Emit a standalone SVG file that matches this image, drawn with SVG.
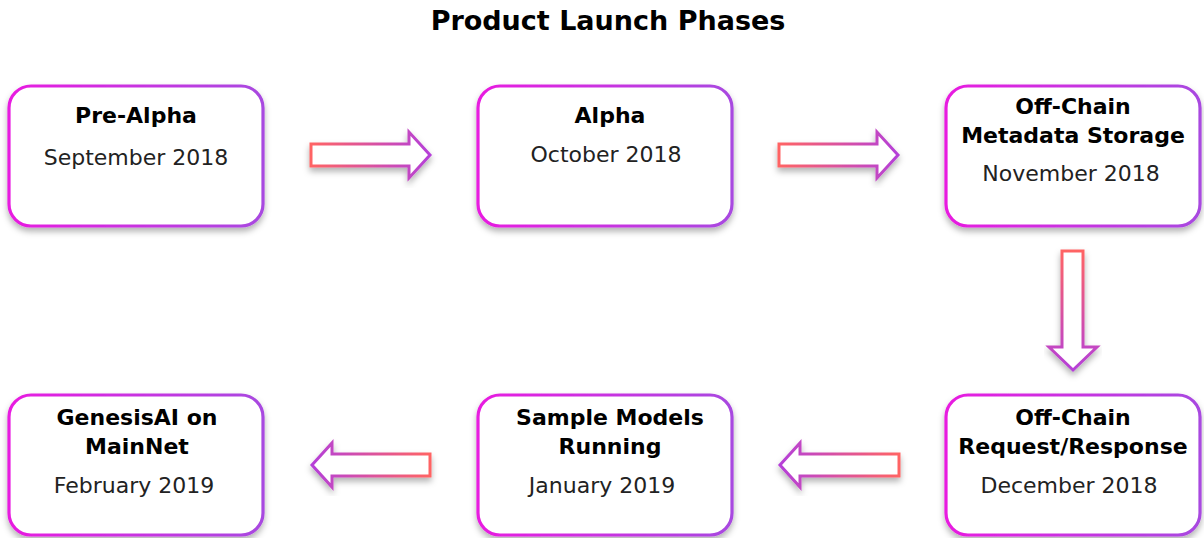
<svg xmlns="http://www.w3.org/2000/svg" width="1204" height="538" viewBox="0 0 1204 538">
<defs>
<linearGradient id="boxGrad" x1="0" y1="0" x2="1" y2="0">
<stop offset="0" stop-color="#e81ce0"/>
<stop offset="1" stop-color="#a848e0"/>
</linearGradient>
<linearGradient id="arrR" x1="0" y1="0" x2="1" y2="0">
<stop offset="0" stop-color="#ff6464"/>
<stop offset="1" stop-color="#b540d8"/>
</linearGradient>
<linearGradient id="arrL" x1="1" y1="0" x2="0" y2="0">
<stop offset="0" stop-color="#ff6464"/>
<stop offset="1" stop-color="#b540d8"/>
</linearGradient>
<linearGradient id="arrD" x1="0" y1="0" x2="0" y2="1">
<stop offset="0" stop-color="#ff6464"/>
<stop offset="1" stop-color="#b540d8"/>
</linearGradient>
<filter id="shadow" x="-10%" y="-10%" width="120%" height="130%">
<feDropShadow dx="0" dy="4" stdDeviation="3" flood-color="#000" flood-opacity="0.3"/>
</filter>
</defs>
<style>
.box{fill:#fff;stroke:url(#boxGrad);stroke-width:3.2;filter:url(#shadow)}
.h{font-family:"DejaVu Sans",sans-serif;font-weight:bold;font-size:22px;fill:#000;text-anchor:middle}
.d{font-family:"DejaVu Sans",sans-serif;font-size:22px;fill:#222;text-anchor:middle}
.title{font-family:"DejaVu Sans",sans-serif;font-weight:bold;font-size:27px;fill:#000;text-anchor:middle}
.arrow{fill:#fff;stroke-width:3;stroke-linejoin:miter;filter:url(#shadow)}
</style>
<rect width="1204" height="538" fill="#fff"/>
<text class="title" x="608" y="30">Product Launch Phases</text>

<g id="connectors">
<path class="arrow" stroke="url(#arrR)" d="M311,144 H409 V132 L430,155 L409,178 V166 H311 Z"/>
<path class="arrow" stroke="url(#arrR)" d="M779,144 H877 V132 L898,155 L877,178 V166 H779 Z"/>
<path class="arrow" stroke="url(#arrD)" d="M1062,251 H1083 V347 H1097 L1073,370 L1049,347 H1062 Z"/>
<path class="arrow" stroke="url(#arrL)" d="M899,454 H800 V443 L780,465 L800,487 V476 H899 Z"/>
<path class="arrow" stroke="url(#arrL)" d="M430,454 H332 V443 L312,465 L332,487 V476 H430 Z"/>
</g>

<g id="node-prealpha">
<rect class="box" x="9" y="86" width="254" height="140" rx="22"/>
<text class="h" x="136" y="123">Pre-Alpha</text>
<text class="d" x="136" y="165">September 2018</text>
</g>
<g id="node-alpha">
<rect class="box" x="478" y="86" width="254" height="140" rx="22"/>
<text class="h" x="610" y="123">Alpha</text>
<text class="d" x="606" y="162">October 2018</text>
</g>
<g id="node-offchain-storage">
<rect class="box" x="946" y="86" width="254" height="140" rx="22"/>
<text class="h" x="1073" y="114">Off-Chain</text>
<text class="h" x="1073" y="143">Metadata Storage</text>
<text class="d" x="1071" y="181">November 2018</text>
</g>
<g id="node-offchain-request">
<rect class="box" x="946" y="395" width="254" height="140" rx="22"/>
<text class="h" x="1073" y="425">Off-Chain</text>
<text class="h" x="1073" y="454">Request/Response</text>
<text class="d" x="1069" y="493">December 2018</text>
</g>
<g id="node-sample-models">
<rect class="box" x="478" y="395" width="254" height="140" rx="22"/>
<text class="h" x="610" y="425">Sample Models</text>
<text class="h" x="610" y="454">Running</text>
<text class="d" x="602" y="493">January 2019</text>
</g>
<g id="node-mainnet">
<rect class="box" x="9" y="395" width="254" height="140" rx="22"/>
<text class="h" x="137" y="425">GenesisAI on</text>
<text class="h" x="137" y="454">MainNet</text>
<text class="d" x="134" y="493">February 2019</text>
</g>
</svg>
